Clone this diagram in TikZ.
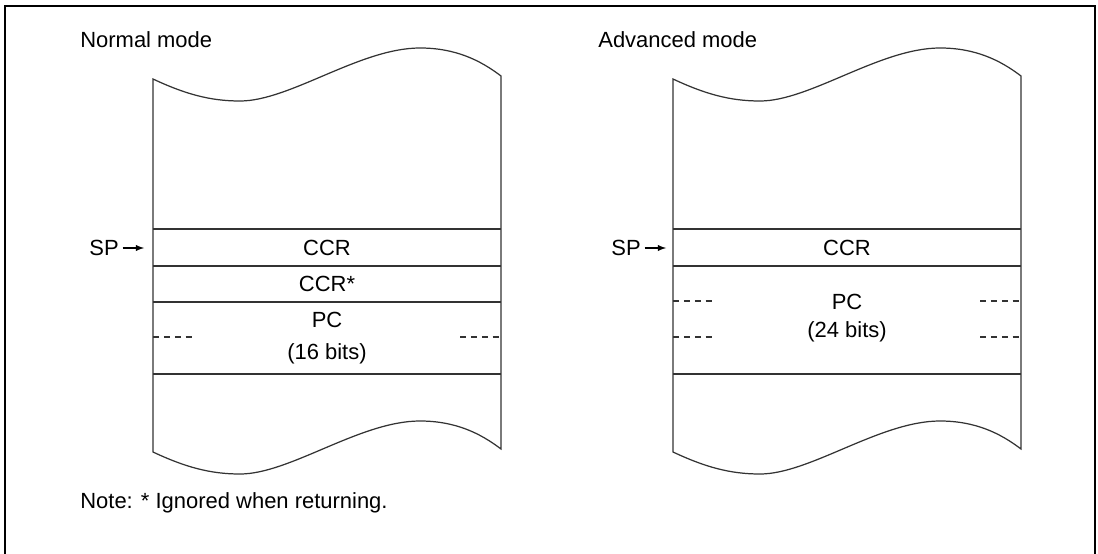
\documentclass[tikz,border=0pt]{standalone}
\usepackage{fontspec}
\setmainfont{Liberation Sans}
\usetikzlibrary{positioning}

\begin{document}
\begin{tikzpicture}[x=0.02cm, y=-0.02cm]
            \useasboundingbox (0,0) rectangle (1098,554);

            % outer frame (bottom edge lies below the page)
            \draw[line width=0.7pt] (5,570) -- (5,6) -- (1095,6) -- (1095,570);

            \begin{scope}[every node/.style={font=\fontsize{12.5}{15}\selectfont, inner sep=0pt}]
                \node[anchor=west] (normal) at (80,40) {Normal mode};
                \node[anchor=west] (advanced) at (598,40) {Advanced mode};
                \node[anchor=west] (note) at (80,503) {Note: * Ignored when returning.};

                \node (ccrA) at (327,248) {CCR};
                \node (ccrB) at (327,284) {CCR*};
                \node (pcA) at (327,320) {PC};
                \node (bitsA) at (327,354) {(16 bits)};

                \node (ccrC) at (847,248) {CCR};
                \node (pcC) at (847,302) {PC};
                \node (bitsC) at (847,332) {(24 bits)};

                \node[anchor=east] (spA) at (119,248) {SP};
                \node[anchor=east] (spC) at (641,248) {SP};
            \end{scope}

            \coordinate (spAtip) at (144,248);
            \coordinate (spCtip) at (666,248);
            \draw[-latex, line width=0.6pt, shorten <=2pt] (spA.east) -- (spAtip);
            \draw[-latex, line width=0.6pt, shorten <=2pt] (spC.east) -- (spCtip);

            % normal mode stack
            \begin{scope}[line width=0.7pt, draw=black!80]
                \draw (153,79) .. controls (185,94) and (210,101) .. (240,101)
                    .. controls (290,101) and (360,48) .. (420,48)
                    .. controls (455,48) and (480,60) .. (501,76) -- (501,449)
                    .. controls (480,433) and (455,421) .. (420,421)
                    .. controls (360,421) and (290,474) .. (240,474)
                    .. controls (210,474) and (185,467) .. (153,452) -- cycle;
                \draw (153,229) -- (501,229);
                \draw (153,266) -- (501,266);
                \draw (153,302) -- (501,302);
                \draw (153,374) -- (501,374);
                \draw[dash pattern=on 3.4pt off 2.8pt] (153,337) -- (194,337);
                \draw[dash pattern=on 3.4pt off 2.8pt] (460,337) -- (501,337);
            \end{scope}

            % advanced mode stack
            \begin{scope}[shift={(520,0)}, line width=0.7pt, draw=black!80]
                \draw (153,79) .. controls (185,94) and (210,101) .. (240,101)
                    .. controls (290,101) and (360,48) .. (420,48)
                    .. controls (455,48) and (480,60) .. (501,76) -- (501,449)
                    .. controls (480,433) and (455,421) .. (420,421)
                    .. controls (360,421) and (290,474) .. (240,474)
                    .. controls (210,474) and (185,467) .. (153,452) -- cycle;
                \draw (153,229) -- (501,229);
                \draw (153,266) -- (501,266);
                \draw (153,374) -- (501,374);
                \draw[dash pattern=on 3.4pt off 2.8pt] (153,301) -- (194,301);
                \draw[dash pattern=on 3.4pt off 2.8pt] (460,301) -- (501,301);
                \draw[dash pattern=on 3.4pt off 2.8pt] (153,337) -- (194,337);
                \draw[dash pattern=on 3.4pt off 2.8pt] (460,337) -- (501,337);
            \end{scope}
        \end{tikzpicture}
\end{document}
